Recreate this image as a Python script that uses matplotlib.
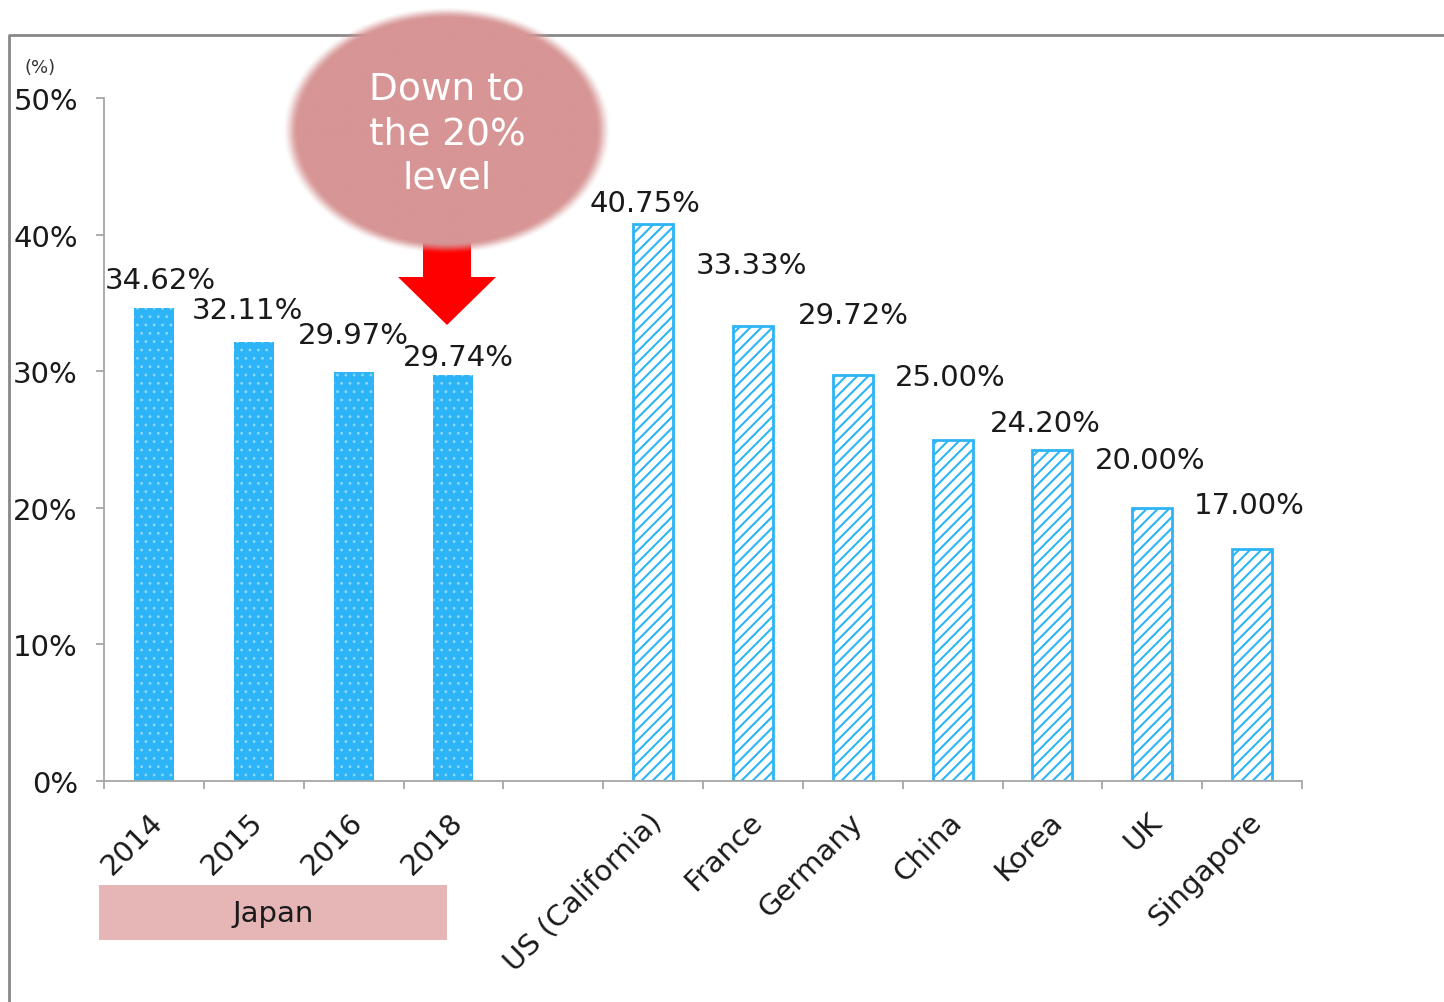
import numpy as np
import matplotlib
matplotlib.use('Agg')
import matplotlib.pyplot as plt
from matplotlib.patches import Rectangle, Polygon

# Data
categories = ['2014', '2015', '2016', '2018', '',
              'US (California)', 'France', 'Germany', 'China', 'Korea', 'UK', 'Singapore']
values = [34.62, 32.11, 29.97, 29.74, None,
          40.75, 33.33, 29.72, 25.00, 24.20, 20.00, 17.00]
is_japan = [True, True, True, True, False,
            False, False, False, False, False, False, False]
yticks = [0, 10, 20, 30, 40, 50]

# label offsets (pixels: dx, dy above bar top)
label_dx = [6, -6, 0, 5, 0, -8, -1, 1, -2, -7, -2, -3]
label_dy = [28, 32, 37, 18, 0, 21, 61, 60, 62, 27, 48, 44]

W, H = 1444, 1003
DPI = 100
PT = 72 / DPI  # pixels -> points

blue = '#2DB4F6'
txt = '#1a1a1a'
plt.rcParams['font.family'] = ['DejaVu Sans']

fig = plt.figure(figsize=(W / DPI, H / DPI), dpi=DPI)
ax = fig.add_axes([104 / W, 1 - 782 / H, (1302 - 104) / W, (782 - 99) / H])

for i, v in enumerate(values):
    if v is None:
        continue
    if is_japan[i]:
        plt.rcParams['hatch.linewidth'] = 0.8
        ax.bar(i, v, width=0.4, color=blue, edgecolor='#8FD8FF', linewidth=0, hatch='..', zorder=2)
    else:
        plt.rcParams['hatch.linewidth'] = 1.5
        ax.bar(i, v, width=0.4, color='white', edgecolor=blue, linewidth=2, hatch='///', zorder=2)
    ax.annotate(f'{v:.2f}%', xy=(i, v), xytext=(label_dx[i] * PT, label_dy[i] * PT),
                textcoords='offset points', ha='center', va='center', fontsize=21, color=txt)

ax.set_xlim(-0.5, len(categories) - 0.5)
ax.set_ylim(0, 50)
ax.set_yticks(yticks)
ax.set_yticklabels([f'{t}%' for t in yticks], fontsize=21, color=txt)
ax.set_xticks(np.arange(len(categories) + 1) - 0.5)
ax.set_xticklabels([])
ax.tick_params(axis='both', direction='out', length=8 * PT, width=1.3, color='#A6A6A6')
ax.tick_params(axis='y', pad=13)
for s in ['top', 'right']:
    ax.spines[s].set_visible(False)
for s in ['left', 'bottom']:
    ax.spines[s].set_color('#A6A6A6')
    ax.spines[s].set_linewidth(1.3)

# rotated category labels
for i, c in enumerate(categories):
    ax.annotate(c, xy=(i, 0), xytext=(5 * PT, -36 * PT), textcoords='offset points',
                rotation=45, ha='right', va='center', rotation_mode='anchor',
                fontsize=21, color=txt, annotation_clip=False)

# overlay in pixel coordinates for decorations
ov = fig.add_axes([0, 0, 1, 1], zorder=3)
ov.axis('off')
ov.patch.set_visible(False)

# outer frame
ov.plot([9, 9, W], [H, 36, 36], color='#888888', lw=2, solid_capstyle='butt')

ov.text(40, 68, '(%)', fontsize=13, ha='center', va='center', color='#333333')

# red arrow
ov.add_patch(Polygon([[423, 230], [471, 230], [471, 278], [496, 278], [447, 326],
                      [398, 278], [423, 278]], closed=True, color='#FF0000', lw=0, zorder=1))

# soft-edged ellipse
cx, cy, a, b = 447, 132, 157, 118
gx = np.linspace(cx - a - 20, cx + a + 20, 400)
gy = np.linspace(cy - b - 20, cy + b + 20, 320)
XX, YY = np.meshgrid(gx, gy)
r = np.sqrt(((XX - cx) / a) ** 2 + ((YY - cy) / b) ** 2)
t = np.clip((1.05 - r) / 0.1, 0, 1)
alpha = t * t * (3 - 2 * t)
img = np.zeros(XX.shape + (4,))
img[..., 0] = 0xD7 / 255
img[..., 1] = 0x95 / 255
img[..., 2] = 0x95 / 255
img[..., 3] = alpha
ov.imshow(img, extent=(gx[0], gx[-1], gy[-1], gy[0]), origin='upper', zorder=2,
          interpolation='bilinear', aspect='auto')
ov.text(cx, 134, 'Down to\nthe 20%\nlevel', color='white', fontsize=27,
        ha='center', va='center', linespacing=1.32, zorder=3)

# Japan box
ov.add_patch(Rectangle((99, 886), 348, 55, color='#E6B5B5', lw=0))
ov.text(273, 914, 'Japan', fontsize=21, ha='center', va='center', color=txt)

ov.set_xlim(0, W)
ov.set_ylim(H, 0)

fig.savefig('out.png', dpi=DPI)
